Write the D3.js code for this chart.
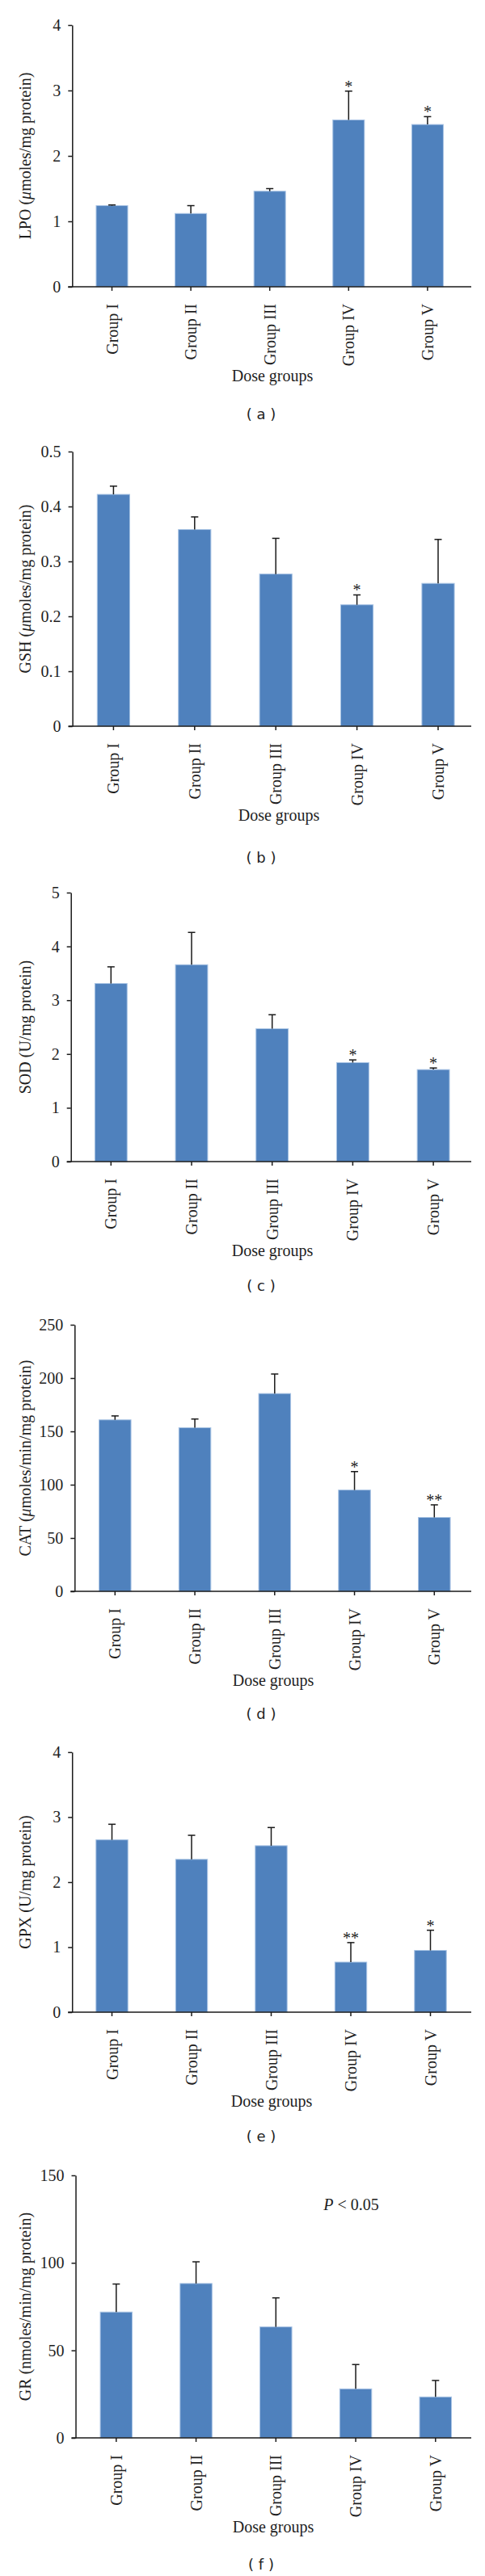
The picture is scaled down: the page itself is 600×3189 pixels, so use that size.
<!DOCTYPE html>
<html>
<head>
<meta charset="utf-8">
<script src="https://cdn.jsdelivr.net/npm/d3@7/dist/d3.min.js"></script>
<style>
  html, body { margin: 0; padding: 0; background: #fff; }
  svg { display: block; }
</style>
</head>
<body>
<div id="chart"></div>
<script>
// ---------------- data ----------------
const groups = ["Group I", "Group II", "Group III", "Group IV", "Group V"];

const lpoMean = [1.24, 1.12, 1.46, 2.55, 2.48];
const lpoErr  = [0.01, 0.12, 0.04, 0.44, 0.12];
const lpoSig  = ["", "", "", "*", "*"];
const lpoTicks = [0, 1, 2, 3, 4];
const lpoTickLabels = ["0", "1", "2", "3", "4"];

const gshMean = [0.422, 0.358, 0.277, 0.221, 0.260];
const gshErr  = [0.015, 0.023, 0.065, 0.018, 0.080];
const gshSig  = ["", "", "", "*", ""];
const gshTicks = [0, 0.1, 0.2, 0.3, 0.4, 0.5];
const gshTickLabels = ["0", "0.1", "0.2", "0.3", "0.4", "0.5"];

const sodMean = [3.31, 3.66, 2.47, 1.84, 1.71];
const sodErr  = [0.31, 0.60, 0.26, 0.05, 0.03];
const sodSig  = ["", "", "", "*", "*"];
const sodTicks = [0, 1, 2, 3, 4, 5];
const sodTickLabels = ["0", "1", "2", "3", "4", "5"];

const catMean = [160.8, 153.5, 185.5, 95.0, 69.3];
const catErr  = [3.7, 8.1, 18.3, 17.3, 11.8];
const catSig  = ["", "", "", "*", "**"];
const catTicks = [0, 50, 100, 150, 200, 250];
const catTickLabels = ["0", "50", "100", "150", "200", "250"];

const gpxMean = [2.65, 2.35, 2.56, 0.77, 0.95];
const gpxErr  = [0.24, 0.37, 0.28, 0.30, 0.31];
const gpxSig  = ["", "", "", "**", "*"];
const gpxTicks = [0, 1, 2, 3, 4];
const gpxTickLabels = ["0", "1", "2", "3", "4"];

const grMean = [71.9, 88.2, 63.4, 28.0, 23.4];
const grErr  = [16.0, 12.4, 16.6, 13.9, 9.4];
const grSig  = ["", "", "", "", ""];
const grTicks = [0, 50, 100, 150];
const grTickLabels = ["0", "50", "100", "150"];

const xTitle = "Dose groups";
const pNote = "< 0.05";
const pNoteValue = 130;

// y-axis titles: [prefix, italic part, suffix]
const yTitles = [
  ["LPO (", "μ", "moles/mg protein)"],
  ["GSH (", "μ", "moles/mg protein)"],
  ["SOD (U/mg protein)", "", ""],
  ["CAT (", "μ", "moles/min/mg protein)"],
  ["GPX (U/mg protein)", "", ""],
  ["GR (nmoles/min/mg protein)", "", ""]
];
const panelLetters = ["a", "b", "c", "d", "e", "f"];

// ---------------- layout (positions only) ----------------
const layout = [
  { top: 31,   y0: 355,  axisX: 89.3, c0: 138.5, step: 97.6,  doseX: 337, letterY: 519 },
  { top: 559,  y0: 899,  axisX: 89.6, c0: 140.4, step: 100.4, doseX: 345, letterY: 1067.5 },
  { top: 1105, y0: 1438, axisX: 87.7, c0: 137.3, step: 99.7,  doseX: 337, letterY: 1597.5 },
  { top: 1640, y0: 1970, axisX: 92.3, c0: 142.3, step: 98.75, doseX: 338, letterY: 2127.5 },
  { top: 2169, y0: 2491, axisX: 89.2, c0: 138.5, step: 98.5,  doseX: 336, letterY: 2650.5 },
  { top: 2693, y0: 3018, axisX: 93.5, c0: 143.8, step: 98.75, doseX: 338, letterY: 3181 }
];

const panels = [
  { mean: lpoMean, err: lpoErr, sig: lpoSig, ticks: lpoTicks, labels: lpoTickLabels },
  { mean: gshMean, err: gshErr, sig: gshSig, ticks: gshTicks, labels: gshTickLabels },
  { mean: sodMean, err: sodErr, sig: sodSig, ticks: sodTicks, labels: sodTickLabels },
  { mean: catMean, err: catErr, sig: catSig, ticks: catTicks, labels: catTickLabels },
  { mean: gpxMean, err: gpxErr, sig: gpxSig, ticks: gpxTicks, labels: gpxTickLabels },
  { mean: grMean, err: grErr, sig: grSig, ticks: grTicks, labels: grTickLabels }
];

// ---------------- drawing ----------------
const W = 600, H = 3189;
const serif = "'Liberation Serif', 'Times New Roman', serif";
const axisColor = "#1a1a1a";
const textColor = "#1e1e1e";
const barFill = "#4F81BD";
const barStroke = "#A9C4E4";
const xAxisEnd = 583;

const svg = d3.select("#chart").append("svg")
  .attr("width", W).attr("height", H)
  .attr("viewBox", `0 0 ${W} ${H}`);

panels.forEach((p, i) => {
  const L = layout[i];
  const g = svg.append("g");

  const y = d3.scaleLinear()
    .domain([0, p.ticks[p.ticks.length - 1]])
    .range([L.y0, L.top]);

  const x = d3.scaleBand()
    .domain(groups)
    .range([L.c0 - L.step / 2, L.c0 + L.step * 4.5])
    .paddingInner(0.6)
    .paddingOuter(0.3);

  const rows = groups.map((gName, k) => ({ g: gName, v: p.mean[k], e: p.err[k], s: p.sig[k] }));

  // bars
  g.selectAll("rect.bar").data(rows).join("rect")
    .attr("class", "bar")
    .attr("x", d => x(d.g))
    .attr("width", x.bandwidth())
    .attr("y", d => y(d.v))
    .attr("height", d => y(0) - y(d.v))
    .attr("fill", barFill)
    .attr("stroke", barStroke)
    .attr("stroke-width", 1);

  // error bars (upper only)
  const cx = d => x(d.g) + x.bandwidth() / 2;
  g.selectAll("line.err").data(rows).join("line")
    .attr("class", "err")
    .attr("x1", cx).attr("x2", cx)
    .attr("y1", d => y(d.v)).attr("y2", d => y(d.v + d.e))
    .attr("stroke", axisColor).attr("stroke-width", 1.5);
  g.selectAll("line.cap").data(rows).join("line")
    .attr("class", "cap")
    .attr("x1", d => cx(d) - 4.5).attr("x2", d => cx(d) + 4.5)
    .attr("y1", d => y(d.v + d.e)).attr("y2", d => y(d.v + d.e))
    .attr("stroke", axisColor).attr("stroke-width", 1.5);

  // significance stars
  g.selectAll("text.sig").data(rows.filter(d => d.s)).join("text")
    .attr("class", "sig")
    .attr("x", cx)
    .attr("y", d => y(d.v + d.e) + 1)
    .attr("text-anchor", "middle")
    .style("font-family", serif)
    .style("font-size", "20px")
    .attr("fill", textColor)
    .text(d => d.s);

  // y axis
  const yAxis = d3.axisLeft(y)
    .tickValues(p.ticks)
    .tickFormat((d, k) => p.labels[k])
    .tickSize(5)
    .tickSizeOuter(0)
    .tickPadding(9);
  const ya = g.append("g").attr("transform", `translate(${L.axisX},0)`).call(yAxis);
  ya.select(".domain").attr("stroke", axisColor).attr("stroke-width", 1.5);
  ya.selectAll(".tick line").attr("stroke", axisColor).attr("stroke-width", 1.5);
  ya.selectAll(".tick text")
    .style("font-family", serif).style("font-size", "20px").attr("fill", textColor);

  // x axis
  const xAxis = d3.axisBottom(x).tickSize(5).tickSizeOuter(0);
  const xa = g.append("g").attr("transform", `translate(0,${L.y0})`).call(xAxis);
  xa.select(".domain").remove();
  xa.append("line")
    .attr("x1", L.axisX - 5).attr("x2", xAxisEnd)
    .attr("y1", 0).attr("y2", 0)
    .attr("stroke", axisColor).attr("stroke-width", 1.5);
  xa.selectAll(".tick line").attr("stroke", axisColor).attr("stroke-width", 1.5);
  xa.selectAll(".tick text")
    .attr("transform", "rotate(-90)")
    .attr("x", -21).attr("y", 0).attr("dy", "0.35em")
    .style("text-anchor", "end")
    .style("font-family", serif).style("font-size", "20px").attr("fill", textColor);

  // y title
  const yt = g.append("text")
    .attr("transform", `translate(31,${(L.y0 + L.top) / 2}) rotate(-90)`)
    .attr("text-anchor", "middle")
    .attr("dy", "0.35em")
    .style("font-family", serif).style("font-size", "20px").attr("fill", textColor);
  const tt = yTitles[i];
  yt.append("tspan").text(tt[0]);
  if (tt[1]) yt.append("tspan").style("font-style", "italic").text(tt[1]);
  if (tt[2]) yt.append("tspan").text(tt[2]);

  // x title
  g.append("text")
    .attr("x", L.doseX).attr("y", L.y0 + 117)
    .attr("text-anchor", "middle")
    .style("font-family", serif).style("font-size", "20px").attr("fill", textColor)
    .text(xTitle);

  // panel letter
  g.append("text")
    .attr("x", 323).attr("y", L.letterY)
    .attr("text-anchor", "middle")
    .style("font-family", "'DejaVu Sans', Verdana, sans-serif").style("font-size", "18px").attr("fill", textColor)
    .attr("xml:space", "preserve")
    .text(`( ${panelLetters[i]} )`);

  // P note for last panel
  if (i === 5) {
    const pt = g.append("text")
      .attr("x", x(groups[3]) - 20)
      .attr("y", y(pNoteValue))
      .style("font-family", serif).style("font-size", "20px").attr("fill", textColor);
    pt.append("tspan").style("font-style", "italic").text("P");
    pt.append("tspan").text(" " + pNote);
  }
});
</script>
</body>
</html>
